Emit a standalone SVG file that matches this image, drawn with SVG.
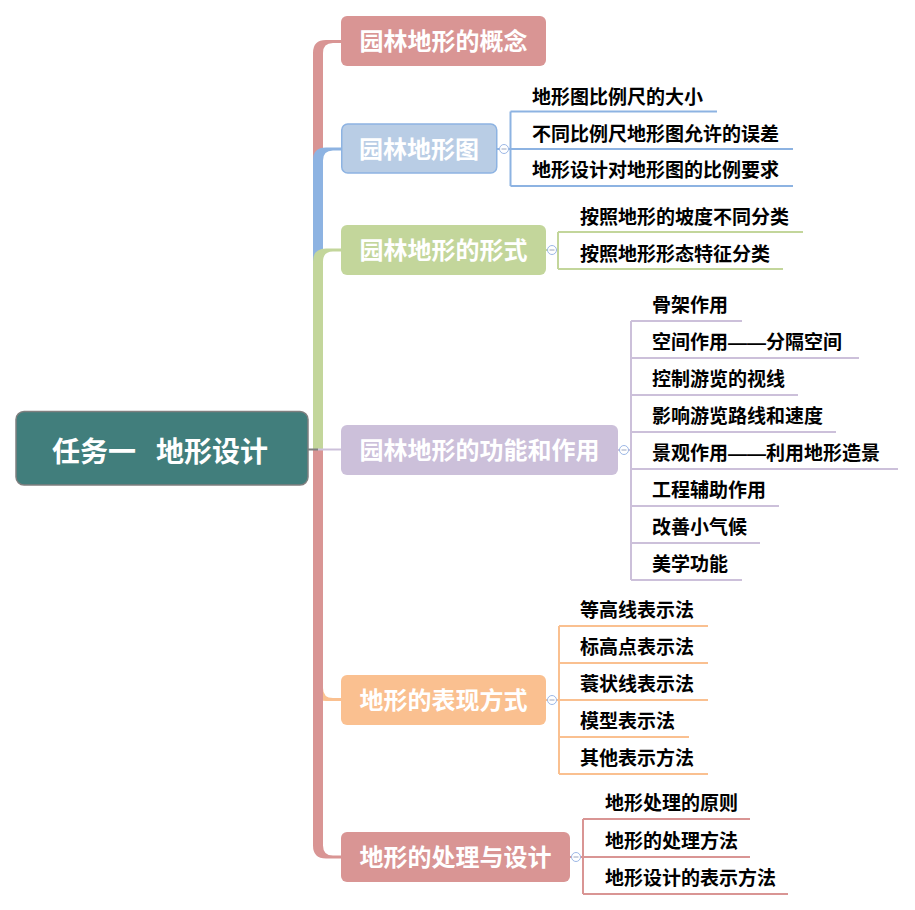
<svg xmlns="http://www.w3.org/2000/svg" width="915" height="910" viewBox="0 0 915 910">
<style>
.nt{font-family:"Noto Sans CJK SC","Noto Sans",sans-serif;font-weight:bold;font-size:24px;fill:#fff;text-anchor:middle}
.rt{font-family:"Noto Sans CJK SC","Noto Sans",sans-serif;font-weight:bold;font-size:28px;fill:#fff}
.ct{font-family:"Noto Sans CJK SC","Noto Sans",sans-serif;font-weight:bold;font-size:19px;fill:#000}
.dash{font-family:"Liberation Sans",sans-serif}
.ln{fill:none;stroke-width:2}
.tg{fill:#fff;stroke:#9DB8E6;stroke-width:1}
.tm{stroke:#9AA6C0;stroke-width:1}
</style>
<rect width="915" height="910" fill="#fff"/>
<g id="connectors">
<path fill="#D99594" d="M313,449.5 V53 Q313,40 326,40 H341 V43 H333 Q323,43 323,53 V449.5 Z"/>
<path fill="#8DB3E2" d="M313,449.5 V160 Q313,147.5 326,147.5 H341 V150.5 H333 Q323,150.5 323,160.5 V449.5 Z"/>
<path fill="#C3D69B" d="M313,449.5 V261.5 Q313,248.5 326,248.5 H341 V251.5 H333 Q323,251.5 323,261.5 V449.5 Z"/>
<path fill="#FAC090" d="M313,449.5 V688 Q313,701 326,701 H341 V698 H333 Q323,698 323,688 V449.5 Z"/>
<path fill="#D99594" d="M313,449.5 V845.5 Q313,858.5 326,858.5 H341 V855.5 H333 Q323,855.5 323,845.5 V449.5 Z"/>
<line x1="308" y1="449.5" x2="318" y2="449.5" stroke="#7F7F7F" stroke-width="2"/>
<line x1="318" y1="449.5" x2="341" y2="449.5" stroke="#CCC0DA" stroke-width="2"/>
<path class="ln" stroke="#8DB3E2" d="M497,149 H510.5 M510.5,111.5 V186 M510.5,111.5 H717 M510.5,149 H793 M510.5,186 H793"/>
<path class="ln" stroke="#C3D69B" d="M546,250 H558 M558,232 V269 M558,232 H803 M558,269 H783"/>
<path class="ln" stroke="#CCC0DA" d="M618,450 H631 M631,321 V580 M631,321 H742 M631,358 H859 M631,395 H798 M631,432 H836 M631,469 H898 M631,506 H779 M631,543 H760 M631,580 H742"/>
<path class="ln" stroke="#FAC090" d="M546,700 H559 M559,626 V774 M559,626 H708 M559,663 H708 M559,700 H708 M559,737 H689 M559,774 H708"/>
<path class="ln" stroke="#D99594" d="M570,857 H583 M583,819 V894 M583,819 H750 M583,857 H750 M583,894 H788"/>
</g>
<g id="root">
<rect x="16" y="411.5" width="292" height="73.5" rx="8" fill="#417E7C" stroke="#7F7F7F" stroke-width="1.5"/>
<text class="rt" x="52" y="461.5" xml:space="preserve">任务一  <tspan x="156">地形设计</tspan></text>
</g>
<g id="n1">
<rect x="341" y="16" width="205" height="50" rx="6" fill="#D99594"/>
<text class="nt" x="443.5" y="50">园林地形的概念</text>
</g>
<g id="n2">
<rect x="341.75" y="124" width="155" height="49" rx="6" fill="#B9CDE5" stroke="#8DB3E2" stroke-width="1.5"/>
<text class="nt" x="419" y="157.5">园林地形图</text>
<circle class="tg" cx="504" cy="149" r="4.5"/><line class="tm" x1="501.5" y1="149" x2="506.5" y2="149"/>
</g>
<g id="n2c">
<text class="ct" x="532" y="104">地形图比例尺的大小</text>
<text class="ct" x="532" y="140.5">不同比例尺地形图允许的误差</text>
<text class="ct" x="532" y="177">地形设计对地形图的比例要求</text>
</g>
<g id="n3">
<rect x="341" y="225" width="205" height="50" rx="6" fill="#C3D69B"/>
<text class="nt" x="443.5" y="259">园林地形的形式</text>
<circle class="tg" cx="552" cy="250" r="4.5"/><line class="tm" x1="549.5" y1="250" x2="554.5" y2="250"/>
</g>
<g id="n3c">
<text class="ct" x="580" y="224">按照地形的坡度不同分类</text>
<text class="ct" x="580" y="260.5">按照地形形态特征分类</text>
</g>
<g id="n4">
<rect x="341" y="425" width="277" height="50" rx="6" fill="#CCC0DA"/>
<text class="nt" x="479.5" y="459">园林地形的功能和作用</text>
<circle class="tg" cx="624" cy="450" r="4.5"/><line class="tm" x1="621.5" y1="450" x2="626.5" y2="450"/>
</g>
<g id="n4c">
<text class="ct" x="652" y="312">骨架作用</text>
<text class="ct" x="652" y="349">空间作用<tspan class="dash">——</tspan>分隔空间</text>
<text class="ct" x="652" y="386">控制游览的视线</text>
<text class="ct" x="652" y="423">影响游览路线和速度</text>
<text class="ct" x="652" y="460">景观作用<tspan class="dash">——</tspan>利用地形造景</text>
<text class="ct" x="652" y="497">工程辅助作用</text>
<text class="ct" x="652" y="534">改善小气候</text>
<text class="ct" x="652" y="571">美学功能</text>
</g>
<g id="n5">
<rect x="341" y="675" width="205" height="50" rx="6" fill="#FAC090"/>
<text class="nt" x="443.5" y="709">地形的表现方式</text>
<circle class="tg" cx="552" cy="700" r="4.5"/><line class="tm" x1="549.5" y1="700" x2="554.5" y2="700"/>
</g>
<g id="n5c">
<text class="ct" x="580" y="616.5">等高线表示法</text>
<text class="ct" x="580" y="653.5">标高点表示法</text>
<text class="ct" x="580" y="690.5">蓑状线表示法</text>
<text class="ct" x="580" y="727.5">模型表示法</text>
<text class="ct" x="580" y="764.5">其他表示方法</text>
</g>
<g id="n6">
<rect x="341" y="832" width="229" height="50" rx="6" fill="#D99594"/>
<text class="nt" x="455.5" y="866">地形的处理与设计</text>
<circle class="tg" cx="576" cy="857" r="4.5"/><line class="tm" x1="573.5" y1="857" x2="578.5" y2="857"/>
</g>
<g id="n6c">
<text class="ct" x="605" y="810">地形处理的原则</text>
<text class="ct" x="605" y="847.5">地形的处理方法</text>
<text class="ct" x="605" y="884.5">地形设计的表示方法</text>
</g>
</svg>
